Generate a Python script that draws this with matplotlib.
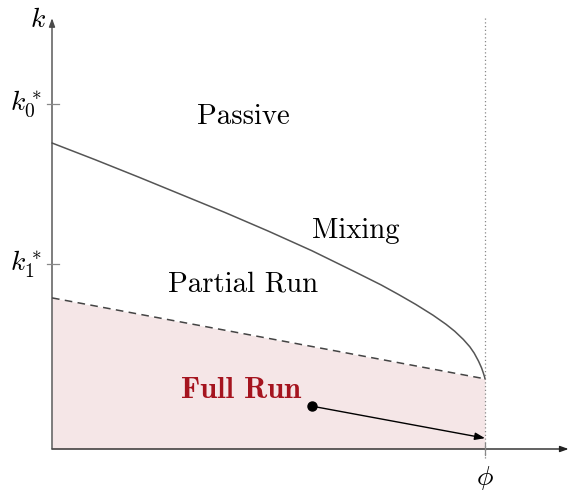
import numpy as np
import matplotlib
matplotlib.use("Agg")
import matplotlib.pyplot as plt

plt.rcParams['mathtext.fontset'] = 'cm'

# Upper boundary (Passive / Mixing vs. Partial Run), phi normalised to 1
curve_x = [0.0, 0.1, 0.2, 0.3, 0.4, 0.5, 0.6, 0.7, 0.76, 0.8, 0.84, 0.88,
           0.91, 0.93, 0.95, 0.965, 0.975, 0.985, 0.992, 0.996, 0.999, 1.0]
curve_y = [0.7067, 0.668, 0.628, 0.587, 0.546, 0.503, 0.458, 0.409, 0.379,
           0.357, 0.334, 0.309, 0.288, 0.272, 0.253, 0.236, 0.2215, 0.203,
           0.1875, 0.176, 0.1665, 0.1617]

# Lower boundary (Partial Run vs. Full Run)
dash_x = [0.0, 1.0]
dash_y = [0.349, 0.162]

# Tick values on the k axis
k_ticks = [0.797, 0.427]
k_labels = [r'$k_0^*$', r'$k_1^*$']
phi = 1.0

# Full-run trajectory
dot_xy = (0.600, 0.099)
arrow_end = (1.0, 0.025)

fig = plt.figure(figsize=(5.69, 4.91), dpi=100)
ax = fig.add_axes([0, 0, 1, 1])
ax.set_xlim(-52 / 433, 517 / 433)
ax.set_ylim(-42 / 433, 449 / 433)
ax.axis('off')

axis_col = '#4a4a4a'
grey = '#555555'

# Shaded full-run region
ax.fill_between(dash_x, 0, dash_y, color='#f5e6e7', lw=0, zorder=1)

# Boundaries
ax.plot(curve_x, curve_y, color=grey, lw=1.1, zorder=3,
        solid_capstyle='round', solid_joinstyle='round')
ax.plot(dash_x, dash_y, color='#444444', lw=1.1, dashes=(5, 3.5), zorder=3)

# Vertical dotted line at phi
ax.plot([phi, phi], [-0.02, 0.995], color='#888888', lw=0.9,
        linestyle=(0, (1, 2)), zorder=2)

# Axes with arrow heads
ax.annotate('', xy=(1.193, 0), xytext=(0, 0),
            arrowprops=dict(arrowstyle='-|>,head_length=0.5,head_width=0.18',
                            color='#222222', lw=1.0, shrinkA=0, shrinkB=0), zorder=4)
ax.annotate('', xy=(0, 0.995), xytext=(0, 0),
            arrowprops=dict(arrowstyle='-|>,head_length=0.5,head_width=0.18',
                            color=axis_col, lw=1.0, shrinkA=0, shrinkB=0), zorder=4)

# Tick marks
for yv in k_ticks:
    ax.plot([-0.012, 0.016], [yv, yv], color='#888888', lw=0.9, zorder=4)
ax.plot([phi, phi], [-0.014, 0.014], color='#888888', lw=0.9, zorder=4)

# Axis labels
ax.text(-0.032, 0.993, r'$k$', fontsize=20, ha='center', va='center')
for yv, lab in zip(k_ticks, k_labels):
    ax.text(-0.025, yv, lab, fontsize=20, ha='right', va='center')
ax.text(phi, -0.067, r'$\phi$', fontsize=20, ha='center', va='center')

# Region labels
txt = dict(fontsize=20.8, ha='center', va='center', family='cmr10')
ax.text(0.441, 0.767, 'Passive', **txt)
ax.text(0.702, 0.503, 'Mixing', **txt)
ax.text(0.441, 0.381, 'Partial Run', **txt)
ax.text(0.436, 0.135, 'Full Run', fontsize=22, ha='center', va='center',
        family='cmb10', color='#a5141f')

# Trajectory: dot and arrow
ax.plot(*dot_xy, 'o', color='black', ms=6.5, zorder=5)
ax.annotate('', xy=arrow_end, xytext=dot_xy,
            arrowprops=dict(arrowstyle='-|>,head_length=0.6,head_width=0.22',
                            color='black', lw=1.0, shrinkA=0, shrinkB=0), zorder=5)

fig.savefig('out.png', dpi=100)
